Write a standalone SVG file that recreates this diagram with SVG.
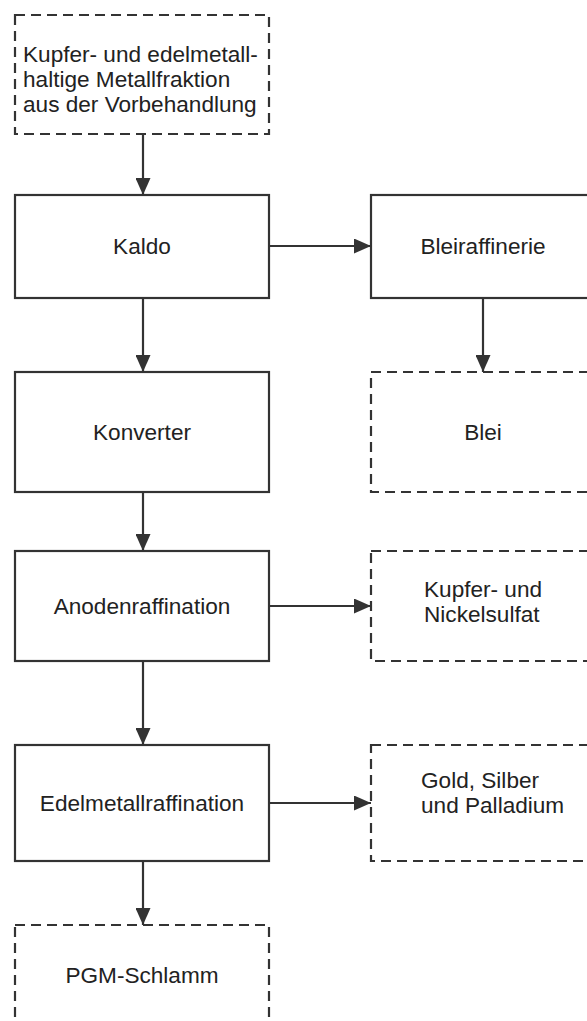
<svg xmlns="http://www.w3.org/2000/svg" width="587" height="1021" viewBox="0 0 587 1021">
  <style>
    .box { fill: #ffffff; stroke: #333333; stroke-width: 2.2; }
    .dashed { stroke-dasharray: 10 6; }
    .label { font-family: "Liberation Sans", Arial, sans-serif; font-size: 22.6px; fill: #222222; }
    .mid { text-anchor: middle; }
    .edge { stroke: #333333; stroke-width: 2.2; fill: none; marker-end: url(#arrow); }
  </style>
  <defs>
    <marker id="arrow" markerUnits="userSpaceOnUse" markerWidth="17" markerHeight="15" viewBox="0 0 17 15" refX="17" refY="7.5" orient="auto">
      <path d="M0,0 L17,7.5 L0,15 z" fill="#333333"/>
    </marker>
  </defs>
  <rect width="587" height="1021" fill="#ffffff"/>

  <!-- connectors -->
  <g id="connectors">
    <line class="edge" x1="143" y1="134" x2="143" y2="195"/>
    <line class="edge" x1="269" y1="246" x2="371" y2="246"/>
    <line class="edge" x1="483" y1="298" x2="483" y2="372"/>
    <line class="edge" x1="143" y1="298" x2="143" y2="372"/>
    <line class="edge" x1="143" y1="492" x2="143" y2="551"/>
    <line class="edge" x1="269" y1="606" x2="371" y2="606"/>
    <line class="edge" x1="143" y1="661" x2="143" y2="745"/>
    <line class="edge" x1="269" y1="803" x2="371" y2="803"/>
    <line class="edge" x1="143" y1="861" x2="143" y2="925"/>
  </g>

  <!-- input material -->
  <g id="n-input">
    <rect class="box dashed" x="15" y="15" width="254" height="119"/>
    <text class="label" x="23" y="62">Kupfer- und edelmetall-</text>
    <text class="label" x="23" y="87">haltige Metallfraktion</text>
    <text class="label" x="23" y="112">aus der Vorbehandlung</text>
  </g>

  <g id="n-kaldo">
    <rect class="box" x="15" y="195" width="254" height="103"/>
    <text class="label mid" x="142" y="254">Kaldo</text>
  </g>

  <g id="n-bleiraffinerie">
    <rect class="box" x="371" y="195" width="240" height="103"/>
    <text class="label mid" x="483" y="254">Bleiraffinerie</text>
  </g>

  <g id="n-blei">
    <rect class="box dashed" x="371" y="372" width="240" height="120"/>
    <text class="label mid" x="483" y="440">Blei</text>
  </g>

  <g id="n-konverter">
    <rect class="box" x="15" y="372" width="254" height="120"/>
    <text class="label mid" x="142" y="440">Konverter</text>
  </g>

  <g id="n-anodenraffination">
    <rect class="box" x="15" y="551" width="254" height="110"/>
    <text class="label mid" x="142" y="614">Anodenraffination</text>
  </g>

  <g id="n-sulfate">
    <rect class="box dashed" x="371" y="551" width="240" height="110"/>
    <text class="label" x="424" y="597">Kupfer- und</text>
    <text class="label" x="424" y="622">Nickelsulfat</text>
  </g>

  <g id="n-edelmetallraffination">
    <rect class="box" x="15" y="745" width="254" height="116"/>
    <text class="label mid" x="142" y="811">Edelmetallraffination</text>
  </g>

  <g id="n-edelmetalle">
    <rect class="box dashed" x="371" y="745" width="240" height="116"/>
    <text class="label" x="421" y="788">Gold, Silber</text>
    <text class="label" x="421" y="813">und Palladium</text>
  </g>

  <g id="n-pgm">
    <rect class="box dashed" x="15" y="925" width="254" height="120"/>
    <text class="label mid" x="142" y="983">PGM-Schlamm</text>
  </g>
</svg>
